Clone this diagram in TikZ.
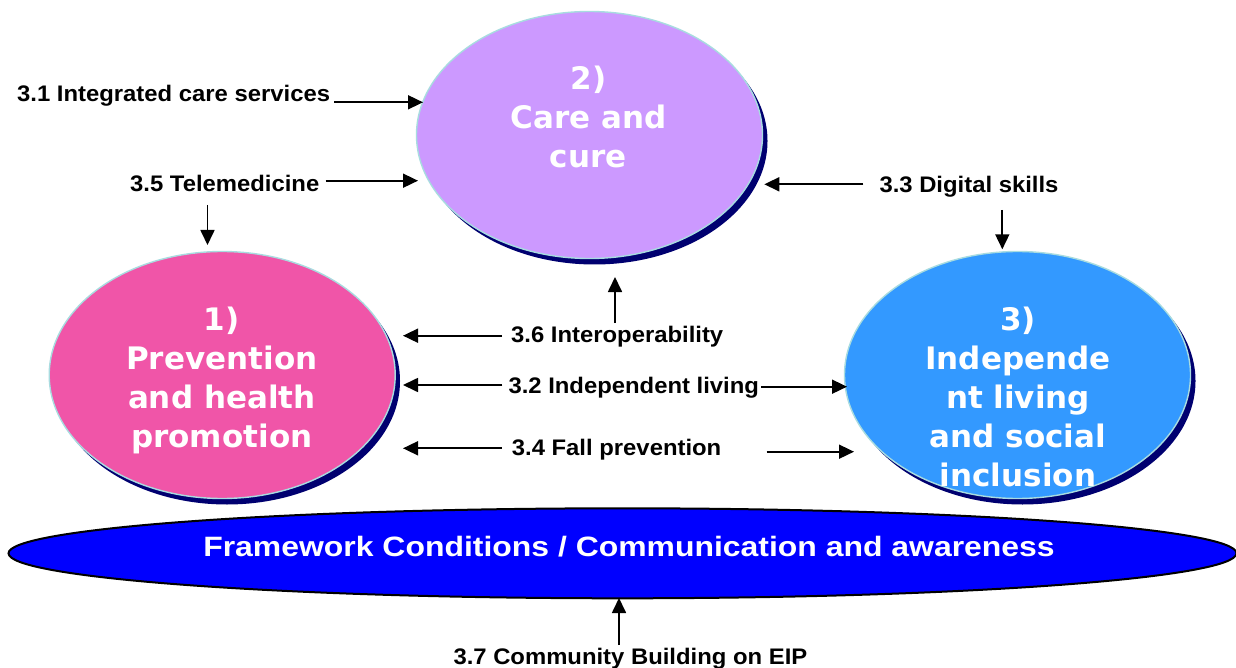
\documentclass[tikz,border=0pt]{standalone}
\usepackage{fontspec}
\setmainfont{Liberation Sans}
\newfontfamily\labfont{Liberation Sans}[FakeStretch=1.06]
\newfontfamily\fwfont{Liberation Sans}[FakeStretch=1.14]
\newfontfamily\ellfont{DejaVu Sans}
\usetikzlibrary{arrows.meta,calc,shapes.geometric}
\definecolor{carecol}{HTML}{CC99FF}
\definecolor{prevcol}{HTML}{F055A8}
\definecolor{indcol}{HTML}{3399FF}
\definecolor{shadowcol}{HTML}{000070}
\definecolor{rimcol}{HTML}{A8DCE0}
\definecolor{fwcol}{HTML}{0000FF}
\newcommand\elltab[1]{\begin{tabular}[t]{@{}c@{}}#1\end{tabular}}
\begin{document}
\begin{tikzpicture}[x=1pt,y=-1pt,
  bigell/.style={ellipse, inner sep=0pt, minimum width=346pt, minimum height=247pt},
  shadowell/.style={bigell, fill=shadowcol},
  mainell/.style={bigell, draw=rimcol, line width=1.4pt},
  elltxt/.style={inner sep=0pt, text=white, font=\ellfont\bfseries\fontsize{31}{39}\selectfont},
  lab/.style={inner sep=0pt, text=black, font=\labfont\bfseries\fontsize{22.5}{27}\selectfont},
  arr/.style={-{Triangle[length=15pt,width=14pt]}, line width=1.7pt, black}]
\useasboundingbox (0,0) rectangle (1236,668);
\fill[white] (0,0) rectangle (1236,668);

% ---- framework ellipse
\node[ellipse, inner sep=0pt, minimum width=1228pt, minimum height=90pt, fill=fwcol, draw=black, line width=2pt] (fw) at (622.5,553.3) {};
\node[inner sep=0pt, text=white, font=\fwfont\bfseries\fontsize{28}{33}\selectfont, anchor=base] (fwtxt) at (629,556.7) {Framework Conditions / Communication and awareness};

% ---- three ellipses
\node[shadowell] (careS) at (594.5,141) {};
\node[mainell, fill=carecol] (care) at (589.5,135) {};
\node[elltxt, anchor=base] (caretxt) at (588.3,90) {\elltab{2)\\Care and\\cure}};

\node[shadowell] (prevS) at (227,381) {};
\node[mainell, fill=prevcol] (prev) at (222.2,375) {};
\node[elltxt, anchor=base] (prevtxt) at (221.8,330) {\elltab{1)\\Prevention\\and health\\promotion}};

\node[shadowell] (indS) at (1022.5,381) {};
\node[mainell, fill=indcol] (ind) at (1017.5,375) {};
\node[elltxt, anchor=base] (indtxt) at (1018,330) {\elltab{3)\\Independe\\nt living\\and social\\inclusion}};

% ---- labels
\node[lab, anchor=base west] (l31) at (17,102) {3.1 Integrated care services};
\node[lab, anchor=base west] (l35) at (130,191.7) {3.5 Telemedicine};
\node[lab, anchor=base west] (l33) at (879.3,193) {3.3 Digital skills};
\node[lab, anchor=base west] (l36) at (511,342.7) {3.6 Interoperability};
\node[lab, anchor=base west] (l32) at (508.3,393.3) {3.2 Independent living};
\node[lab, anchor=base west] (l34) at (511.7,455) {3.4 Fall prevention};
\node[lab, anchor=base west] (l37) at (453.3,664) {3.7 Community Building on EIP};

% ---- arrow end points
\coordinate (t31) at (423,102.3);
\coordinate (t35) at (418,180.7);
\coordinate (t35d) at (207.5,245);
\coordinate (t33) at (764.3,184.3);
\coordinate (t33d) at (1002.3,249.3);
\coordinate (t36l) at (403,335.7);
\coordinate (t36u) at (615,277);
\coordinate (t32l) at (403,385);
\coordinate (t32r) at (847,386.7);
\coordinate (t34l) at (403,448.3);
\coordinate (t34r) at (854,451.7);
\coordinate (t37) at (619,598);

% ---- arrows
\draw[arr] ($(l31.east |- t31)+(4,0)$) -- (t31);
\draw[arr] ($(l35.east |- t35)+(6,0)$) -- (t35);
\draw[arr] ($(t35d |- l35.base)+(0,13.3)$) -- (t35d);
\draw[arr] ($(l33.west |- t33)+(-16,0)$) -- (t33);
\draw[arr] ($(t33d |- l33.base)+(0,17)$) -- (t33d);
\draw[arr] ($(l36.west |- t36l)+(-9,0)$) -- (t36l);
\draw[arr] ($(t36u |- l36.base)+(0,-19.7)$) -- (t36u);
\draw[arr] ($(l32.west |- t32l)+(-6,0)$) -- (t32l);
\draw[arr] ($(l32.east |- t32r)+(2,0)$) -- (t32r);
\draw[arr] ($(l34.west |- t34l)+(-10,0)$) -- (t34l);
\draw[arr] ($(l34.east |- t34r)+(45,0)$) -- (t34r);
\draw[arr] ($(t37 |- l37.base)+(0,-19)$) -- (t37);
\end{tikzpicture}
\end{document}
